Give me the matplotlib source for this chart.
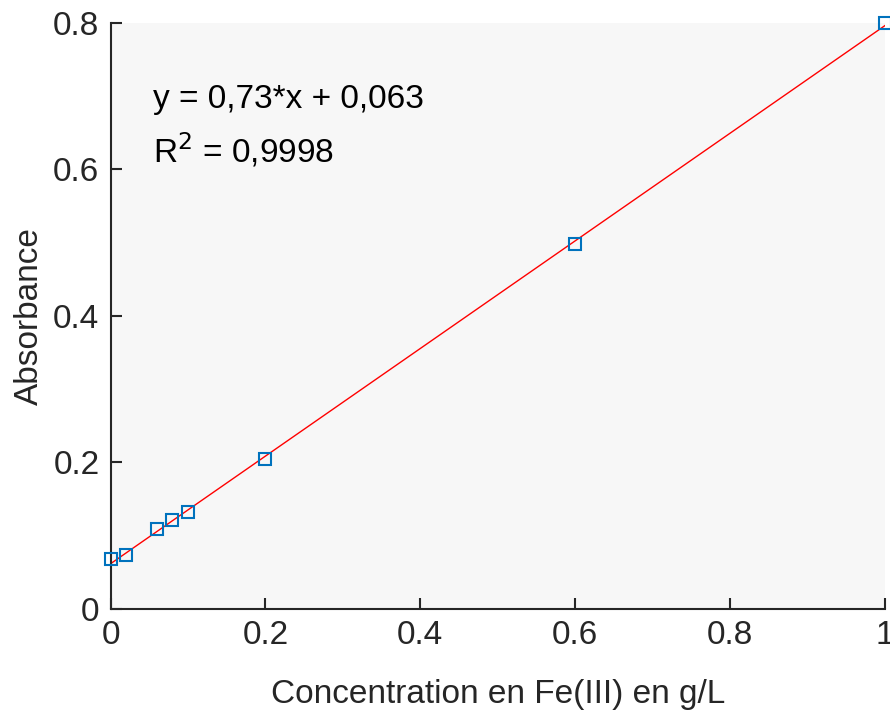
import matplotlib
matplotlib.use("Agg")
import matplotlib.pyplot as plt
import numpy as np

plt.rcParams['font.family'] = ['Liberation Sans', 'DejaVu Sans']

# calibration data
conc = [0.0, 0.02, 0.06, 0.08, 0.1, 0.2, 0.6, 1.0]
absorb = [0.068, 0.073, 0.109, 0.1215, 0.133, 0.205, 0.498, 0.80]
eq_text = "y = 0,73*x + 0,063"
r2_text = "R$^2$ = 0,9998"

slope, intercept = np.polyfit(conc, absorb, 1)

fig = plt.figure(figsize=(8.9, 7.11), dpi=100)
ax = fig.add_axes([0.1242, 0.1435, 0.8702, 0.8242])
ax.set_facecolor('#f7f7f7')

xfit = np.array([0.0, 1.0])
ax.plot(xfit, slope*xfit + intercept, color='#ff0000', lw=1.0, zorder=2)
ax.plot(conc, absorb, ls='none', marker='s', ms=9, mfc='none', mec='#0072bd',
        mew=1.5, clip_on=False, zorder=3)

ax.text(0.055, 0.684, eq_text, fontsize=24, color='black')
ax.text(0.055, 0.609, r2_text, fontsize=24, color='black')

ax.set_xlim(0, 1)
ax.set_ylim(0, 0.8)
ax.set_xticks([0, 0.2, 0.4, 0.6, 0.8, 1])
ax.set_xticklabels(['0', '0.2', '0.4', '0.6', '0.8', '1'])
ax.set_yticks([0, 0.2, 0.4, 0.6, 0.8])
ax.set_yticklabels(['0', '0.2', '0.4', '0.6', '0.8'])
ax.tick_params(direction='in', length=8, width=1.5, labelsize=24,
               colors='#262626', pad=8)
for s in ['top', 'right']:
    ax.spines[s].set_visible(False)
for s in ['left', 'bottom']:
    ax.spines[s].set_linewidth(1.5)
    ax.spines[s].set_color('#262626')

ax.set_xlabel('Concentration en Fe(III) en g/L', fontsize=24, color='#262626', labelpad=20)
ax.set_ylabel('Absorbance', fontsize=24, color='#262626', labelpad=6)

fig.savefig('out.png', dpi=100)
